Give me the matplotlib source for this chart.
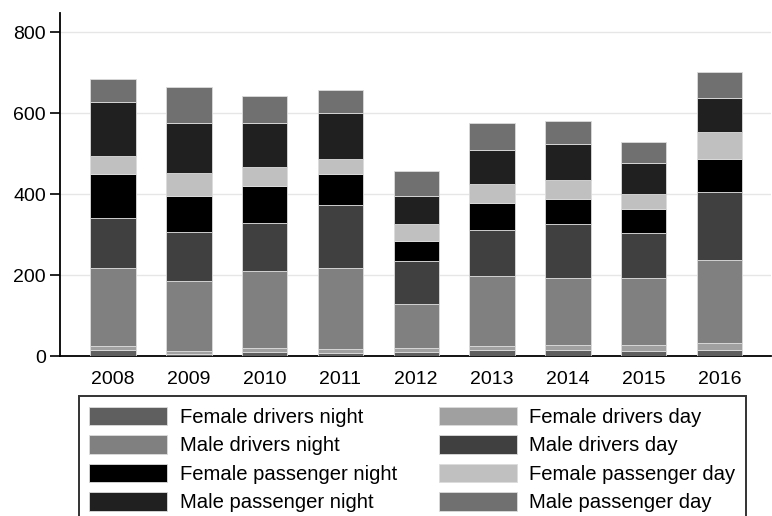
import matplotlib.pyplot as plt
import numpy as np

plt.rcParams['font.family'] = ['Liberation Sans', 'DejaVu Sans']

years = ["2008", "2009", "2010", "2011", "2012", "2013", "2014", "2015", "2016"]

# casualties per group, stacked bottom to top in this order
female_drivers_night = [15, 4, 11, 7, 11, 16, 16, 13, 16]
female_drivers_day = [10, 8, 10, 10, 9, 10, 11, 14, 15]
male_drivers_night = [193, 173, 188, 201, 108, 173, 167, 167, 206]
male_drivers_day = [122, 122, 121, 155, 108, 113, 132, 109, 169]
female_passenger_night = [109, 89, 90, 76, 48, 65, 61, 61, 80]
female_passenger_day = [46, 57, 48, 37, 42, 48, 47, 37, 67]
male_passenger_night = [132, 122, 108, 114, 70, 85, 90, 76, 84]
male_passenger_day = [57, 90, 66, 57, 62, 66, 56, 52, 66]

series = [
    ("Female drivers night", female_drivers_night, "#5f5f5f"),
    ("Female drivers day", female_drivers_day, "#a0a0a0"),
    ("Male drivers night", male_drivers_night, "#808080"),
    ("Male drivers day", male_drivers_day, "#404040"),
    ("Female passenger night", female_passenger_night, "#000000"),
    ("Female passenger day", female_passenger_day, "#c0c0c0"),
    ("Male passenger night", male_passenger_night, "#202020"),
    ("Male passenger day", male_passenger_day, "#707070"),
]

fig = plt.figure(figsize=(7.72, 5.16), dpi=100)
ax = fig.add_axes([0.0777, 0.31, 0.921, 0.665])

x = np.arange(len(years))
bottom = np.zeros(len(years))
handles = {}
for name, vals, col in series:
    bars = ax.bar(x, vals, 0.6, bottom=bottom, color=col,
                  edgecolor="#dcdcdc", linewidth=0.6, label=name, zorder=3)
    handles[name] = bars
    bottom += np.array(vals)

ax.set_xlim(-0.7, 8.68)
ax.set_ylim(0, 848)
ax.set_yticks([0, 200, 400, 600, 800])
ax.set_xticks(x)
ax.set_xticklabels(years)
ax.grid(axis="y", color="#e6e6e6", linewidth=1, zorder=0)
ax.tick_params(axis="x", length=0, pad=11, labelsize=14)
ax.tick_params(axis="y", length=7, width=1.2, labelsize=14, pad=3)
for s in ["top", "right"]:
    ax.spines[s].set_visible(False)
for s in ["left", "bottom"]:
    ax.spines[s].set_linewidth(1.3)

# legend reads down the left column first, then the right one
order = ["Female drivers night", "Male drivers night", "Female passenger night",
         "Male passenger night", "Female drivers day", "Male drivers day",
         "Female passenger day", "Male passenger day"]
leg = fig.legend([handles[n] for n in order], order, ncol=2,
                 loc="upper left", bbox_to_anchor=(0.102, 0.232),
                 fontsize=14.6, frameon=True, fancybox=False,
                 handlelength=3.85, handleheight=1.0, labelspacing=0.42,
                 handletextpad=0.6, columnspacing=2.07,
                 borderpad=0.52, borderaxespad=0)
leg.get_frame().set_edgecolor("black")
leg.get_frame().set_linewidth(1.4)

plt.savefig("out.png", dpi=100)
